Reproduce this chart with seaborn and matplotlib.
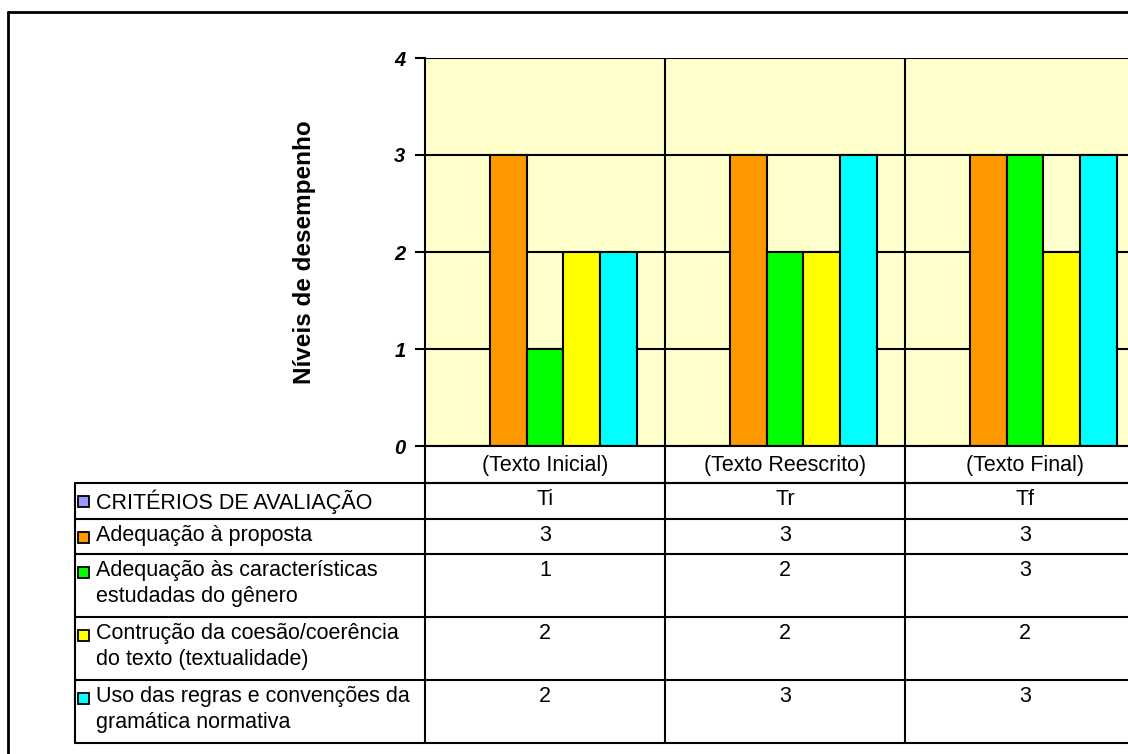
import seaborn as sns
import pandas as pd
import matplotlib.pyplot as plt

# data
textos = ["(Texto Inicial)", "(Texto Reescrito)", "(Texto Final)"]
siglas = ["Ti", "Tr", "Tf"]
criterios = ["CRITÉRIOS DE AVALIAÇÃO",
             "Adequação à proposta",
             "Adequação às características\nestudadas do gênero",
             "Contrução da coesão/coerência\ndo texto (textualidade)",
             "Uso das regras e convenções da\ngramática normativa"]
adequacao = [3, 3, 3]
genero = [1, 2, 3]
coesao = [2, 2, 2]
gramatica = [2, 3, 3]
cores = ["#9999FF", "#FF9900", "#00FF00", "#FFFF00", "#00FFFF"]

series = [None, adequacao, genero, coesao, gramatica]
rows = []
for crit, vals in zip(criterios, series):
    for j, t in enumerate(textos):
        rows.append({"texto": t, "criterio": crit,
                     "nivel": 0 if vals is None else vals[j]})
df = pd.DataFrame(rows)

sns.set_style("white")
plt.rcParams["font.family"] = ["Liberation Sans", "DejaVu Sans"]
plt.rcParams["text.color"] = "black"
plt.rcParams["axes.labelcolor"] = "black"
plt.rcParams["ytick.color"] = "black"
plt.rcParams["xtick.color"] = "black"

W, H = 1128, 754
fig = plt.figure(figsize=(W / 100, H / 100), dpi=100)

# layout in pixels
x0, colw = 425, 240
ytop, ybase = 58, 446
ax = fig.add_axes([x0 / W, 1 - ybase / H, 3 * colw / W, (ybase - ytop) / H])
ax.set_facecolor("#FFFFCC")
ax.set_axisbelow(True)
ax.yaxis.grid(True, color="black", linewidth=1.5)

sns.barplot(data=df, x="texto", y="nivel", hue="criterio", order=textos,
            hue_order=criterios, palette=cores, saturation=1,
            width=5 / 6.5, edgecolor="black", linewidth=1.5,
            legend=False, ax=ax)

for k in [0.5, 1.5]:
    ax.axvline(k, color="black", linewidth=1.5, zorder=0.5)
ax.set_xlim(-0.5, 2.5)
ax.set_ylim(0, 4)
ax.set_yticks([0, 1, 2, 3, 4])
ax.set_yticklabels(["0", "1", "2", "3", "4"], fontsize=14.5,
                   fontweight="bold", fontstyle="italic")
ax.tick_params(axis="y", direction="out", length=7, width=1.5, pad=7,
               left=True, color="black", labelcolor="black")
ax.set_xticks([])
ax.set_xlabel("")
ax.set_ylabel("Níveis de desempenho", fontsize=17.5, fontweight="bold",
              color="black")
ax.yaxis.set_label_coords((316 - x0) / (3 * colw), 0.5)
for s in ["left", "bottom"]:
    ax.spines[s].set_color("black")
    ax.spines[s].set_linewidth(1.5)
ax.spines["top"].set_visible(False)
ax.spines["right"].set_visible(False)

# data table below the chart
tab = fig.add_axes([0, 0, 1, 1])
tab.set_xlim(0, W)
tab.set_ylim(H, 0)
tab.axis("off")
tab.patch.set_alpha(0)

lw = 1.5
row_y = [446, 483, 519, 554, 617, 680, 743]
tleft = 75
col_x = [x0 + colw * i for i in range(4)]

# outer chart border
tab.plot([8, 8], [12, H], color="black", linewidth=2)
tab.plot([8, W], [12, 12], color="black", linewidth=2)

# grid of the table
tab.plot([x0, W], [row_y[1], row_y[1]], color="black", linewidth=lw)
for cx in col_x:
    tab.plot([cx, cx], [row_y[0], row_y[-1]], color="black", linewidth=lw)
for y in row_y[1:]:
    tab.plot([tleft, W], [y, y], color="black", linewidth=lw)
tab.plot([tleft, tleft], [row_y[1], row_y[-1]], color="black", linewidth=lw)

fs = 15.5
for j, t in enumerate(textos):
    tab.text(x0 + colw * (j + 0.5), (row_y[0] + row_y[1]) / 2 + 1, t,
             ha="center", va="center", fontsize=fs, color="black")

for i, crit in enumerate(criterios):
    top = row_y[i + 1]
    first_mid = top + 18
    tab.add_patch(plt.Rectangle((78, first_mid - 5), 11, 11,
                                facecolor=cores[i], edgecolor="black",
                                linewidth=1.3))
    tab.text(96, top + 6, crit, ha="left", va="top", fontsize=fs,
             linespacing=1.3, color="black")
    vals = siglas if series[i] is None else [str(v) for v in series[i]]
    for j, v in enumerate(vals):
        tab.text(x0 + colw * (j + 0.5), top + 6, v, ha="center", va="top",
                 fontsize=fs, color="black")

fig.savefig("out.png", dpi=100)
